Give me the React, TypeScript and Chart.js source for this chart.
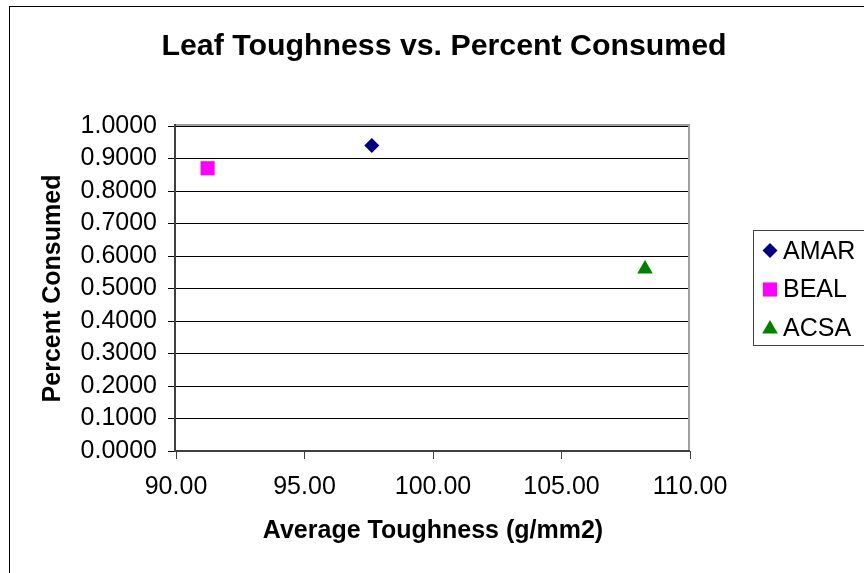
import React, { useEffect, useRef } from "react";
import { Chart, registerables } from "chart.js";

Chart.register(...registerables);

const chartTitle = "Leaf Toughness vs. Percent Consumed";
const xTitle = "Average Toughness (g/mm2)";
const yTitle = "Percent Consumed";
const seriesNames = ["AMAR", "BEAL", "ACSA"];
const toughness = [97.62, 91.23, 108.25];
const consumed = [0.94, 0.87, 0.56];
const seriesColors = ["#000080", "#FF00FF", "#008000"];
const seriesStyles = ["rectRot", "rect", "triangle"];
const seriesRadii = [7.5, 10, 9];
const xTickValues = [90, 95, 100, 105, 110];
const yTickValues = [0, 0.1, 0.2, 0.3, 0.4, 0.5, 0.6, 0.7, 0.8, 0.9, 1.0];

const FONT = "'Liberation Sans', Arial, sans-serif";

function drawMarker(ctx: CanvasRenderingContext2D, style: string, x: number, y: number, r: number, color: string) {
  ctx.save();
  ctx.fillStyle = color;
  ctx.beginPath();
  if (style === "rectRot") {
    ctx.moveTo(x - r, y);
    ctx.lineTo(x, y - r);
    ctx.lineTo(x + r, y);
    ctx.lineTo(x, y + r);
  } else if (style === "rect") {
    const s = Math.SQRT1_2 * r;
    ctx.rect(x - s, y - s, 2 * s, 2 * s);
  } else {
    ctx.moveTo(x, y - r);
    ctx.lineTo(x + r * Math.sin((2 * Math.PI) / 3), y + r / 2);
    ctx.lineTo(x - r * Math.sin((2 * Math.PI) / 3), y + r / 2);
  }
  ctx.closePath();
  ctx.fill();
  ctx.restore();
}

const decorPlugin = {
  id: "decor",
  beforeDraw(chart: any) {
    const ctx = chart.ctx as CanvasRenderingContext2D;
    ctx.save();
    ctx.fillStyle = "#FFFFFF";
    ctx.fillRect(0, 0, chart.width, chart.height);
    ctx.strokeStyle = "#000000";
    ctx.lineWidth = 1;
    ctx.strokeRect(9.5, 6.5, 1000, 1000);
    ctx.restore();
  },
  beforeDatasetsDraw(chart: any) {
    const ctx = chart.ctx as CanvasRenderingContext2D;
    const { left, right, top, bottom } = chart.chartArea;
    ctx.save();
    ctx.lineWidth = 2;
    ctx.strokeStyle = "#A0A0A0";
    ctx.beginPath();
    ctx.moveTo(left - 2, top - 1);
    ctx.lineTo(right, top - 1);
    ctx.moveTo(right - 1, top - 2);
    ctx.lineTo(right - 1, bottom + 1);
    ctx.stroke();
    ctx.strokeStyle = "#404040";
    ctx.beginPath();
    ctx.moveTo(left - 1, top - 2);
    ctx.lineTo(left - 1, bottom + 1);
    ctx.moveTo(left - 2, bottom);
    ctx.lineTo(right, bottom);
    ctx.stroke();
    ctx.restore();
  },
  afterDraw(chart: any) {
    const ctx = chart.ctx as CanvasRenderingContext2D;
    ctx.save();
    // title
    ctx.fillStyle = "#000000";
    ctx.font = `bold 30.3px ${FONT}`;
    ctx.textAlign = "center";
    ctx.textBaseline = "alphabetic";
    ctx.fillText(chartTitle, 444, 55);
    // legend
    ctx.strokeStyle = "#404040";
    ctx.lineWidth = 1;
    ctx.strokeRect(753.5, 230.5, 200, 115);
    const baselines = [259, 297, 336];
    const markerY = [250.5, 289.5, 329];
    ctx.font = `25px ${FONT}`;
    ctx.textAlign = "left";
    for (let i = 0; i < seriesNames.length; i++) {
      drawMarker(ctx, seriesStyles[i], 770, markerY[i], seriesRadii[i], seriesColors[i]);
      ctx.fillStyle = "#000000";
      ctx.fillText(seriesNames[i], 783, baselines[i]);
    }
    ctx.restore();
  },
};

export default function App() {
  const canvasRef = useRef<HTMLCanvasElement | null>(null);

  useEffect(() => {
    if (!canvasRef.current) return;
    const chart = new Chart(canvasRef.current, {
      type: "scatter",
      data: {
        datasets: seriesNames.map((name, i) => ({
          label: name,
          data: [{ x: toughness[i], y: consumed[i] }],
          pointStyle: seriesStyles[i] as any,
          pointRadius: seriesRadii[i],
          pointHoverRadius: seriesRadii[i],
          pointBackgroundColor: seriesColors[i],
          pointBorderColor: seriesColors[i],
          pointBorderWidth: 0,
          showLine: false,
        })),
      },
      options: {
        animation: false,
        responsive: false,
        devicePixelRatio: 1,
        layout: { padding: { top: 126, right: 174, bottom: 0, left: 0 } },
        plugins: {
          legend: { display: false },
          title: { display: false },
          tooltip: { enabled: false },
        },
        scales: {
          x: {
            type: "linear",
            min: 90,
            max: 110,
            afterBuildTicks: (scale: any) => {
              scale.ticks = xTickValues.map((v) => ({ value: v }));
            },
            afterFit: (scale: any) => {
              scale.height = 122;
            },
            grid: {
              drawOnChartArea: false,
              drawTicks: true,
              tickLength: 8,
              color: "#404040",
              lineWidth: 1,
            },
            border: { display: false },
            ticks: {
              autoSkip: false,
              maxRotation: 0,
              padding: 13,
              color: "#000000",
              font: { family: FONT, size: 25 },
              callback: (v: any) => Number(v).toFixed(2),
            },
            title: {
              display: true,
              text: xTitle,
              color: "#000000",
              font: { family: FONT, size: 25, weight: "bold" },
              padding: { top: 0, bottom: 27 },
            },
          },
          y: {
            type: "linear",
            min: 0,
            max: 1,
            afterBuildTicks: (scale: any) => {
              scale.ticks = yTickValues.map((v) => ({ value: v }));
            },
            afterFit: (scale: any) => {
              scale.width = 176;
            },
            grid: {
              drawOnChartArea: true,
              drawTicks: true,
              tickLength: 8,
              color: "#000000",
              lineWidth: 1,
            },
            border: { display: false },
            ticks: {
              autoSkip: false,
              padding: 11,
              color: "#000000",
              font: { family: FONT, size: 25 },
              callback: (v: any) => Number(v).toFixed(4),
            },
            title: {
              display: true,
              text: yTitle,
              color: "#000000",
              font: { family: FONT, size: 25, weight: "bold" },
              padding: { top: 38, bottom: 0 },
            },
          },
        },
      },
      plugins: [decorPlugin],
    });
    return () => chart.destroy();
  }, []);

  return (
    <div style={{ position: "absolute", left: 0, top: 0, width: 864, height: 573, background: "#fff" }}>
      <canvas ref={canvasRef} width={864} height={573} style={{ display: "block", width: 864, height: 573 }} />
    </div>
  );
}
